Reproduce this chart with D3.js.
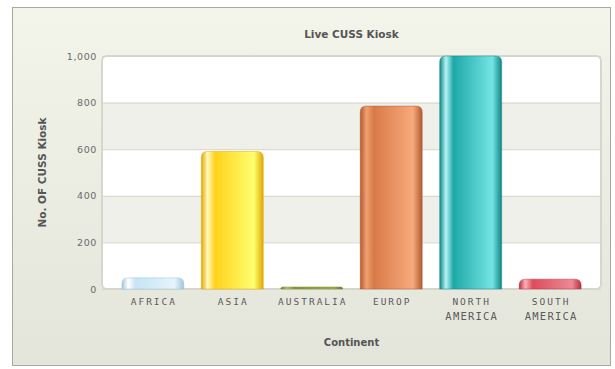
<!DOCTYPE html>
<html>
<head>
<meta charset="utf-8">
<script src="https://cdn.jsdelivr.net/npm/d3@7"></script>
<style>
  body { margin: 0; background: #ffffff; }
  svg { display: block; }
</style>
</head>
<body>
<div id="chart"></div>
<script>
// Data
var continents = ["AFRICA", "ASIA", "AUSTRALIA", "EUROP", "NORTH AMERICA", "SOUTH AMERICA"];
var kioskCounts = [48, 590, 3, 785, 1000, 42];
var yTicks = [0, 200, 400, 600, 800, 1000];

// Bar colours: [dark edge, highlight, body, light side]
var barColors = [
  ["#9ec6dc", "#ffffff", "#c6e4f4", "#e6f4fb"],
  ["#e0a800", "#fff9c0", "#ffd21a", "#ffff70"],
  ["#6c7a2a", "#c8d27a", "#8c9a3a", "#a8b450"],
  ["#b05a30", "#f0a070", "#d87a48", "#f8aa7c"],
  ["#108686", "#b4f4f4", "#1ea8a8", "#74e4e4"],
  ["#b83040", "#ffb0b8", "#dc4c5c", "#f08894"]
];

var svgWidth = 615;
var svgHeight = 369;

// plot area inside the panel
var plot = { left: 102, right: 601, top: 56, bottom: 289 };

var svg = d3.select("#chart")
  .append("svg")
  .attr("width", svgWidth)
  .attr("height", svgHeight);

var defs = svg.append("defs");

// panel background gradient
var bg = defs.append("linearGradient")
  .attr("id", "panelBg")
  .attr("x1", 0).attr("y1", 0).attr("x2", 0).attr("y2", 1);
bg.append("stop").attr("offset", "0%").attr("stop-color", "#f4f5ea");
bg.append("stop").attr("offset", "100%").attr("stop-color", "#e4e5da");

// bar gradients
barColors.forEach(function(c, i) {
  var g = defs.append("linearGradient")
    .attr("id", "bar" + i)
    .attr("x1", 0).attr("y1", 0).attr("x2", 1).attr("y2", 0);
  g.append("stop").attr("offset", "0%").attr("stop-color", c[0]);
  g.append("stop").attr("offset", "10%").attr("stop-color", c[1]);
  g.append("stop").attr("offset", "22%").attr("stop-color", c[2]);
  g.append("stop").attr("offset", "85%").attr("stop-color", c[3]);
  g.append("stop").attr("offset", "100%").attr("stop-color", c[0]);
});

// outer panel
svg.append("rect")
  .attr("x", 12.5).attr("y", 7.5)
  .attr("width", 598).attr("height", 358)
  .attr("fill", "url(#panelBg)")
  .attr("stroke", "#a8a8a0")
  .attr("stroke-width", 1);

// scales
var xScale = d3.scaleBand()
  .domain(continents)
  .range([plot.left, plot.right])
  .paddingInner(0.22)
  .paddingOuter(0.25);

var yScale = d3.scaleLinear()
  .domain([0, 1000])
  .range([plot.bottom, plot.top]);

// plot background with alternating bands
svg.append("rect")
  .attr("x", plot.left).attr("y", plot.top)
  .attr("width", plot.right - plot.left)
  .attr("height", plot.bottom - plot.top)
  .attr("rx", 5)
  .attr("fill", "#ffffff")
  .attr("stroke", "#d6d6ce")
  .attr("stroke-width", 2);

var bandPairs = d3.pairs(yTicks);
svg.append("g")
  .selectAll("rect")
  .data(bandPairs.filter(function(d, i) { return i % 2 === 1; }))
  .enter()
  .append("rect")
  .attr("x", plot.left + 1)
  .attr("y", d => yScale(d[1]))
  .attr("width", plot.right - plot.left - 2)
  .attr("height", d => yScale(d[0]) - yScale(d[1]))
  .attr("fill", "#f0f0ea");

// y axis with gridlines
var leftAxis = d3.axisLeft(yScale)
  .tickValues(yTicks)
  .tickSize(-(plot.right - plot.left))
  .tickPadding(5)
  .tickFormat(d3.format(","));

var yAxisGroup = svg.append("g")
  .attr("transform", `translate(${plot.left}, 0)`)
  .call(leftAxis);
yAxisGroup.select(".domain").remove();
yAxisGroup.selectAll(".tick line")
  .attr("stroke", "#d4d4cc");
yAxisGroup.selectAll(".tick text")
  .attr("fill", "#6a6a6a")
  .style("font-family", "DejaVu Sans, Verdana, sans-serif")
  .style("font-size", "9.5px")
  .style("letter-spacing", "0.6px");

// bars with rounded tops
function barPath(x, y, w, h) {
  var r = Math.min(6, h, w / 2);
  return "M" + x + "," + (y + h) +
    "V" + (y + r) +
    "Q" + x + "," + y + " " + (x + r) + "," + y +
    "H" + (x + w - r) +
    "Q" + (x + w) + "," + y + " " + (x + w) + "," + (y + r) +
    "V" + (y + h) + "Z";
}

svg.append("g")
  .selectAll(".bar")
  .data(continents)
  .enter()
  .append("path")
  .attr("class", "bar")
  .attr("d", function(d, i) {
    var y0 = yScale(kioskCounts[i]);
    var h = Math.max(yScale(0) - y0, 2);
    return barPath(xScale(d), yScale(0) - h, xScale.bandwidth(), h);
  })
  .attr("fill", (d, i) => "url(#bar" + i + ")")
  .attr("stroke", (d, i) => barColors[i][0])
  .attr("stroke-width", 0.8)
  .attr("stroke-opacity", 0.6);

// x axis labels (two lines where needed)
var bottomAxis = d3.axisBottom(xScale).tickSize(0).tickPadding(0);
var xAxisGroup = svg.append("g")
  .attr("transform", `translate(0, ${plot.bottom})`)
  .call(bottomAxis);
xAxisGroup.select(".domain").remove();
xAxisGroup.selectAll(".tick text").each(function(d) {
  var words = d.split(" ");
  var t = d3.select(this).text(null)
    .attr("y", 0)
    .attr("dy", null)
    .attr("fill", "#5a5a5a")
    .style("font-family", "DejaVu Sans Mono, monospace")
    .style("font-size", "9.5px")
    .style("letter-spacing", "2px");
  words.forEach(function(w, k) {
    t.append("tspan")
      .attr("x", 1)
      .attr("y", 16 + k * 15)
      .style("font-size", k > 0 ? "10.5px" : null)
      .style("letter-spacing", k > 0 ? "1.2px" : null)
      .text(w);
  });
});

// titles
svg.append("text")
  .attr("x", (plot.left + plot.right) / 2)
  .attr("y", 38)
  .attr("text-anchor", "middle")
  .attr("fill", "#555")
  .style("font-family", "DejaVu Sans, Verdana, sans-serif")
  .style("font-weight", "bold")
  .style("font-size", "10.5px")
  .text("Live CUSS Kiosk");

svg.append("text")
  .attr("x", (plot.left + plot.right) / 2)
  .attr("y", 346)
  .attr("text-anchor", "middle")
  .attr("fill", "#555")
  .style("font-family", "DejaVu Sans, Verdana, sans-serif")
  .style("font-weight", "bold")
  .style("font-size", "10px")
  .text("Continent");

svg.append("text")
  .attr("transform", `translate(46, ${(plot.top + plot.bottom) / 2}) rotate(-90)`)
  .attr("text-anchor", "middle")
  .attr("fill", "#555")
  .style("font-family", "DejaVu Sans, Verdana, sans-serif")
  .style("font-weight", "bold")
  .style("font-size", "10.5px")
  .text("No. OF CUSS Kiosk");
</script>
</body>
</html>
